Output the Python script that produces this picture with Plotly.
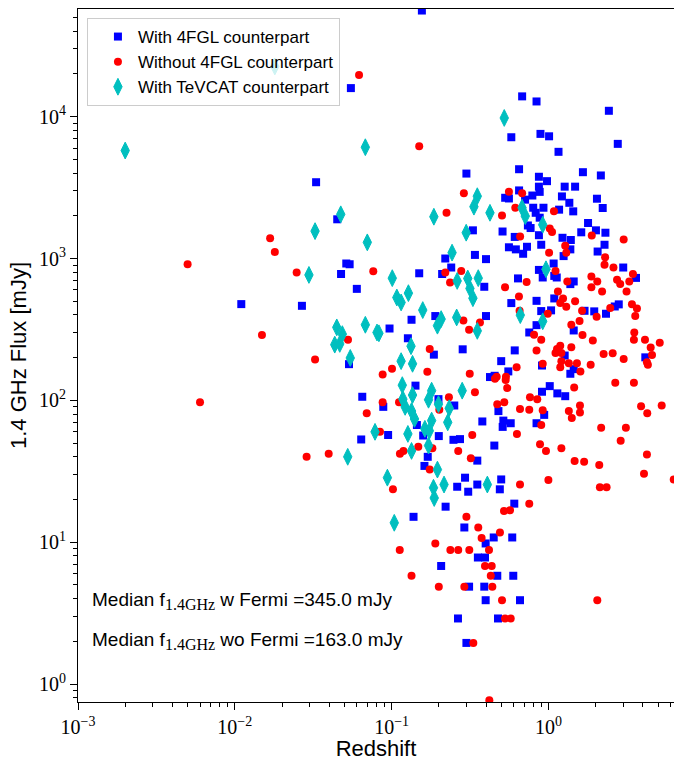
import plotly.graph_objects as go

# ---- data: With 4FGL counterpart (blue squares) ----
blue_z = [0.055, 0.033, 0.045, 0.156, 0.68, 0.84, 2.43, 0.58, 0.89, 1.01, 2.77, 1.16, 0.30, 0.65, 1.66, 2.16,
          0.87, 0.98, 0.87, 0.88, 1.27, 1.48, 0.65, 0.79, 1.22, 0.53, 0.56, 2.04, 0.71, 1.36, 0.80, 0.93,
          2.22, 1.17, 1.44, 0.83, 0.88, 1.79, 0.74, 0.77, 0.33, 0.51, 1.62, 2.01, 2.31, 0.61, 0.87, 1.23,
          1.39, 2.28, 0.90, 1.38, 0.56, 0.62, 0.73, 0.34, 0.69, 2.06, 1.25, 0.22, 0.40, 0.24, 0.15, 0.21,
          0.39, 0.64, 0.58, 0.19, 0.40, 0.134, 0.097, 0.127, 0.186, 0.284, 0.61, 0.50, 0.555, 0.454, 0.424,
          0.0514, 0.054, 0.0476, 0.060, 0.011, 0.0268, 0.0535, 0.065, 0.064, 3.0, 1.08, 0.87, 0.92, 1.09,
          1.13, 3.62, 1.45, 1.38, 0.84, 1.09, 2.81, 2.65, 1.70, 1.96, 2.33, 0.90, 1.04, 1.45, 0.84, 0.755,
          1.27, 4.15, 1.45, 1.38, 0.91, 0.142, 0.199, 0.251, 0.0885, 0.145, 0.159, 0.095, 0.20, 0.248,
          0.273, 0.379, 0.48, 0.516, 0.575, 0.511, 0.170, 0.452, 0.352, 0.162, 0.294, 0.262, 0.352, 0.308,
          0.50, 0.49, 0.221, 0.606, 0.138, 0.291, 0.448, 0.588, 0.398, 0.355, 0.394, 0.207, 0.472, 0.597,
          0.312, 0.39, 0.398, 0.659, 0.265, 0.477, 0.30, 0.91, 1.02, 1.14, 1.28, 0.94, 0.84]
blue_flux = [15900, 3450, 1890, 56000, 13900, 12800, 11000, 7160, 7560, 7270, 6430, 5650, 3970, 4260, 4060, 3850,
             3770, 3510, 3210, 2950, 3210, 3210, 3020, 2780, 2740, 2680, 2650, 2640, 2600, 2470, 2280, 2280,
             2270, 2210, 2150, 2100, 1940, 1780, 1710, 1640, 1580, 1550, 1530, 1580, 1520, 1420, 1460, 1400,
             1350, 1250, 1250, 1160, 1200, 1160, 1210, 1060, 1080, 1120, 1040, 1000, 990, 864, 787, 778,
             632, 724, 485, 393, 393, 370, 321, 274, 210, 229, 225, 189, 160, 149, 146,
             922, 911, 778, 611, 477, 464, 180, 106, 53, 864, 922, 831, 735, 754,
             735, 730, 689, 660, 503, 523, 475, 459, 428, 424, 408, 426, 431, 311, 339, 301,
             207, 201, 166, 154, 176, 127, 102, 92, 90, 67, 56.5, 57, 56, 52.7,
             53.3, 71, 84, 72, 69, 65, 40, 48, 37.6, 34.5, 28.5, 24.6, 25.5, 22.7,
             27.7, 23.6, 17.8, 18.7, 15.1, 12.7, 10.8, 10.8, 9.8, 7.8, 7.8, 6.8, 5.8, 5.8,
             4.86, 4.86, 3.9, 3.9, 2.9, 2.9, 1.95, 115, 126, 112, 107, 79, 69]

# ---- data: Without 4FGL counterpart (red circles) ----
red_z = [0.062, 0.0168, 0.018, 0.150, 0.289, 0.56, 0.68, 0.224, 0.506, 0.615, 1.085, 1.02, 1.055, 0.66, 1.89,
         3.02, 1.28, 1.01, 1.30, 2.30, 2.28, 2.60, 1.11, 3.46, 1.88, 2.05, 2.74, 2.87, 3.28, 1.32, 0.726,
         1.88, 2.20, 3.15, 1.15, 1.24, 1.19, 1.30, 1.48, 2.48, 3.41, 3.67, 3.58, 1.64, 2.03, 0.99, 1.58,
         1.40, 0.81, 1.65, 0.90, 1.92, 3.53, 3.51, 4.13, 5.13, 4.49, 0.84, 1.19, 1.135, 1.11, 1.21, 1.40,
         2.25, 2.57, 3.02, 4.58, 4.25, 4.31, 1.21, 1.19, 1.35, 1.52, 1.60, 1.86, 0.92, 0.0764, 0.220,
         0.278, 0.236, 0.529, 0.649, 0.287, 0.366, 0.312, 0.655, 0.175, 0.1006, 0.0877, 0.169, 0.315,
         0.627, 0.468, 0.536, 0.0050, 0.0248, 0.0149, 0.0527, 0.0325, 0.0060, 0.0694, 0.0287, 0.0397,
         0.34, 0.232, 0.2015, 0.0877, 0.1115, 0.0843, 0.327, 0.472, 0.523, 0.659, 0.63, 0.456, 0.534,
         0.546, 0.182, 0.148, 0.119, 0.113, 0.266, 0.32, 0.175, 0.102, 0.659, 0.521, 0.569, 0.30, 0.755,
         0.357, 0.491, 0.375, 0.19, 0.1127, 0.237, 0.266, 0.313, 0.418, 0.394, 0.435, 0.134, 0.429, 0.20,
         0.291, 0.439, 0.506, 2.05, 0.529, 0.575, 0.332, 0.42, 1.46, 2.67, 3.51, 0.763, 0.849, 0.755,
         0.92, 0.90, 1.35, 1.59, 1.59, 1.41, 3.90, 4.27, 5.28, 2.17, 3.12, 2.89, 0.884, 0.965, 1.21, 4.25,
         1.47, 1.69, 2.11, 4.07, 1.0, 2.13, 2.35, 6.3]
red_flux = [19700, 1390, 1110, 6180, 2890, 2960, 2890, 2100, 2010, 2280, 2150, 1630, 1540, 1430, 1450,
            1360, 1230, 1100, 1100, 1020, 902, 864, 817, 778, 747, 689, 707, 660, 689, 689, 684,
            626, 586, 586, 586, 523, 485, 457, 500, 448, 475, 444, 393, 428, 388, 408, 362,
            341, 290, 289, 268, 264, 301, 268, 268, 255, 236, 225, 243, 230, 216, 216, 237,
            212, 215, 196, 209, 186, 178, 189, 171, 183, 183, 160, 178, 181, 814, 796,
            817, 677, 626, 540, 366, 354, 314, 428, 230, 167, 152, 159, 154,
            171, 147, 147, 911, 796, 289, 267, 194, 97, 81, 40, 42,
            114, 105, 86, 97, 97, 60, 57, 94, 97, 87, 58, 142, 139,
            122, 46, 47, 44, 42, 44, 39, 32.6, 23.6, 25.5, 16.6, 16.8, 15.1, 18.7,
            12.7, 11.7, 10.7, 9.8, 8.8, 8.8, 8.8, 8.8, 8.8, 6.8, 6.8, 5.8, 5.8, 4.86,
            4.86, 4.86, 3.9, 3.9, 2.9, 2.9, 1.95, 0.77, 123, 133, 133, 105, 102, 86,
            85, 67, 84, 92, 82, 75, 91, 81, 92, 64, 64, 52, 49, 44, 46, 41.5,
            37.4, 36.9, 35, 30.4, 27.5, 24.4, 24.4, 27.7]

# ---- data: With TeVCAT counterpart (cyan diamonds) ----
tev_z = [0.018, 0.0020, 0.068, 0.0474, 0.0325, 0.070, 0.523, 0.352, 0.335, 0.186, 0.424, 0.679, 0.712,
         0.92, 0.299, 0.243, 0.0297, 0.0447, 0.0485, 0.0434, 0.0467, 0.068, 0.0807, 0.0545, 0.0784,
         0.0525, 0.101, 0.262, 0.306, 0.357, 0.316, 0.33, 0.108, 0.115, 0.128, 0.158, 0.207, 0.196, 0.26,
         0.352, 0.662, 0.083, 0.133, 0.115, 0.136, 0.117, 0.136, 0.118, 0.122, 0.180, 0.172, 0.282, 0.199,
         0.233, 0.134, 0.140, 0.180, 0.228, 0.163, 0.174, 0.127, 0.172, 0.134, 0.196, 0.094, 0.216, 0.185,
         0.187, 0.408, 0.104, 0.92, 0.965]
tev_flux = [22600, 5770, 6090, 2050, 1560, 1300, 9790, 2750, 2320, 1970, 2100, 2280, 1990,
            1730, 1520, 1100, 766, 327, 293, 247, 250, 341, 301, 199, 60,
            40, 727, 695, 723, 727, 615, 525, 531, 490, 570, 433, 374, 336, 384,
            309, 399, 297, 241, 189, 181, 128, 109, 102, 90, 117, 101, 117, 94,
            88, 84, 74, 72, 70, 63, 61, 58, 48, 44, 32.5, 28.5, 25.5, 24.2,
            20.5, 25.5, 13.7, 361, 840]

series_names = ["With 4FGL counterpart", "Without 4FGL counterpart", "With TeVCAT counterpart"]
median_lines = ["Median f<sub><span style=\"font-family:Liberation Serif;font-size:16px\">1.4GHz</span></sub> w Fermi =345.0 mJy",
                "Median f<sub><span style=\"font-family:Liberation Serif;font-size:16px\">1.4GHz</span></sub> wo Fermi =163.0 mJy"]

x_tick_vals = [1e-3, 1e-2, 1e-1, 1]
x_tick_text = ["10<sup>−3</sup>", "10<sup>−2</sup>", "10<sup>−1</sup>", "10<sup>0</sup>"]
y_tick_vals = [1, 10, 100, 1000, 10000]
y_tick_text = ["10<sup>0</sup>", "10<sup>1</sup>", "10<sup>2</sup>", "10<sup>3</sup>", "10<sup>4</sup>"]

minor_x = [m * 10.0 ** e for e in range(-3, 1) for m in range(2, 10)]
minor_y = [m * 10.0 ** e for e in range(-1, 5) for m in range(2, 10)]

fig = go.Figure()
fig.add_trace(go.Scatter(x=blue_z, y=blue_flux, mode="markers", name=series_names[0],
                         marker=dict(symbol="square", size=8, color="#0000ff", line=dict(width=0))))
fig.add_trace(go.Scatter(x=red_z, y=red_flux, mode="markers", name=series_names[1],
                         marker=dict(symbol="circle", size=8, color="#ff0000", line=dict(width=0))))
fig.add_trace(go.Scatter(x=tev_z, y=tev_flux, mode="markers", name=series_names[2],
                         marker=dict(symbol="diamond-tall", size=12, color="#00bfbf",
                                     line=dict(width=1, color="#00bfbf"))))

for i, txt in enumerate(median_lines):
    fig.add_annotation(x=0.02, y=[0.1453, 0.0878][i], xref="paper", yref="paper",
                       xanchor="left", yanchor="middle", showarrow=False, text=txt,
                       font=dict(family="Liberation Sans", size=19, color="black"))

axis_common = dict(type="log", showgrid=False, zeroline=False, showline=True, linecolor="black",
                   linewidth=1, ticks="outside", ticklen=7, tickwidth=1, tickcolor="black",
                   tickfont=dict(family="Liberation Serif", size=20, color="black"))

fig.update_xaxes(range=[-3, 0.801], tickmode="array", tickvals=x_tick_vals, ticktext=x_tick_text,
                 mirror=True,
                 minor=dict(tickmode="array", tickvals=minor_x, ticks="outside", ticklen=4,
                            tickwidth=1, tickcolor="black", showgrid=False),
                 title=dict(text="Redshift", font=dict(family="Liberation Sans", size=22, color="black"),
                            standoff=8),
                 **axis_common)
fig.update_yaxes(range=[-0.1265, 4.759], tickmode="array", tickvals=y_tick_vals, ticktext=y_tick_text,
                 mirror=False,
                 minor=dict(tickmode="array", tickvals=minor_y, ticks="outside", ticklen=4,
                            tickwidth=1, tickcolor="black", showgrid=False),
                 title=dict(text="1.4 GHz Flux [mJy]", font=dict(family="Liberation Sans", size=22, color="black"),
                            standoff=6),
                 **axis_common)

fig.update_layout(width=674, height=761, autosize=False,
                  margin=dict(l=78, r=0, t=9, b=57, pad=0),
                  paper_bgcolor="white", plot_bgcolor="white",
                  showlegend=True,
                  legend=dict(x=0.015, y=0.987, xanchor="left", yanchor="top",
                              bgcolor="rgba(255,255,255,0.8)", bordercolor="#cccccc", borderwidth=1,
                              font=dict(family="Liberation Sans", size=17, color="black"),
                              indentation=10))

fig.write_html("out.html")
